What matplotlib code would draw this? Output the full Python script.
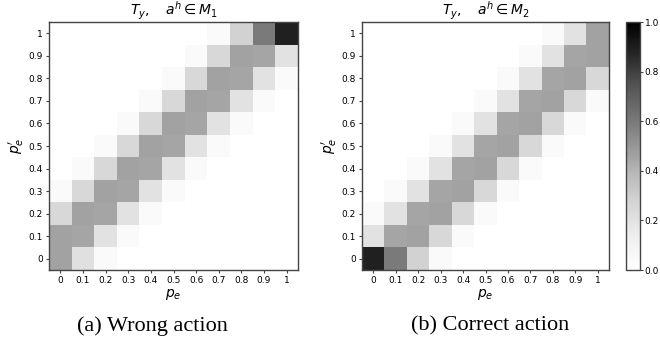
import matplotlib
matplotlib.use("Agg")
import matplotlib.pyplot as plt
import numpy as np

tick_labels = ["0", "0.1", "0.2", "0.3", "0.4", "0.5", "0.6", "0.7", "0.8", "0.9", "1"]

# rows: p'_e from 0 (bottom) to 1 (top); columns: p_e from 0 to 1
T_wrong = [
    [0.46, 0.21, 0.04, 0, 0, 0, 0, 0, 0, 0, 0],
    [0.46, 0.45, 0.20, 0.04, 0, 0, 0, 0, 0, 0, 0],
    [0.25, 0.46, 0.45, 0.20, 0.04, 0, 0, 0, 0, 0, 0],
    [0.04, 0.25, 0.46, 0.45, 0.20, 0.04, 0, 0, 0, 0, 0],
    [0, 0.04, 0.25, 0.46, 0.45, 0.20, 0.04, 0, 0, 0, 0],
    [0, 0, 0.04, 0.25, 0.46, 0.45, 0.20, 0.04, 0, 0, 0],
    [0, 0, 0, 0.04, 0.25, 0.46, 0.45, 0.20, 0.04, 0, 0],
    [0, 0, 0, 0, 0.04, 0.25, 0.46, 0.45, 0.20, 0.04, 0],
    [0, 0, 0, 0, 0, 0.04, 0.25, 0.46, 0.45, 0.20, 0.04],
    [0, 0, 0, 0, 0, 0, 0.04, 0.25, 0.46, 0.45, 0.20],
    [0, 0, 0, 0, 0, 0, 0, 0.04, 0.28, 0.60, 0.89],
]

T_correct = [
    [0.89, 0.60, 0.28, 0.04, 0, 0, 0, 0, 0, 0, 0],
    [0.20, 0.45, 0.46, 0.25, 0.04, 0, 0, 0, 0, 0, 0],
    [0.04, 0.20, 0.45, 0.46, 0.25, 0.04, 0, 0, 0, 0, 0],
    [0, 0.04, 0.20, 0.45, 0.46, 0.25, 0.04, 0, 0, 0, 0],
    [0, 0, 0.04, 0.20, 0.45, 0.46, 0.25, 0.04, 0, 0, 0],
    [0, 0, 0, 0.04, 0.20, 0.45, 0.46, 0.25, 0.04, 0, 0],
    [0, 0, 0, 0, 0.04, 0.20, 0.45, 0.46, 0.25, 0.04, 0],
    [0, 0, 0, 0, 0, 0.04, 0.20, 0.45, 0.46, 0.25, 0.04],
    [0, 0, 0, 0, 0, 0, 0.04, 0.20, 0.45, 0.46, 0.25],
    [0, 0, 0, 0, 0, 0, 0, 0.04, 0.20, 0.45, 0.46],
    [0, 0, 0, 0, 0, 0, 0, 0, 0.04, 0.20, 0.46],
]

titles = [r"$T_y,\quad a^h \in M_1$", r"$T_y,\quad a^h \in M_2$"]
captions = ["(a) Wrong action", "(b) Correct action"]

W, H = 660, 341
fig = plt.figure(figsize=(W / 100, H / 100), dpi=100)

def fx(px):
    return px / W

def fy(py):
    return 1 - py / H

ax_boxes = [(49, 22, 298, 270), (362, 22, 609, 270)]
caption_x = [152, 490]
edge = "#444444"
im = None
for k, data in enumerate([T_wrong, T_correct]):
    x0, y0, x1, y1 = ax_boxes[k]
    ax = fig.add_axes([fx(x0), fy(y1), fx(x1 - x0), (y1 - y0) / H])
    arr = np.array(data)
    im = ax.imshow(arr, cmap="Greys", vmin=0, vmax=1, origin="lower",
                   aspect="auto", interpolation="nearest")
    ax.set_xticks(range(len(tick_labels)))
    ax.set_xticklabels(tick_labels)
    ax.set_yticks(range(len(tick_labels)))
    ax.set_yticklabels(tick_labels)
    ax.tick_params(labelsize=6.5, length=2.5, width=0.8, color=edge, pad=2)
    for s in ax.spines.values():
        s.set_color(edge)
        s.set_linewidth(1.0)
    ax.set_xlabel(r"$p_e$", fontsize=10, labelpad=1)
    ax.set_ylabel(r"$p_e'$", fontsize=10, labelpad=2)
    ax.set_title(titles[k], fontsize=10, pad=3)
    fig.text(fx(caption_x[k]), fy(326), captions[k], ha="center", va="center",
             fontsize=16, family="Liberation Serif")

cax = fig.add_axes([fx(626), fy(270), fx(14), 248 / H])
cb = fig.colorbar(im, cax=cax)
cb.set_ticks([0, 0.2, 0.4, 0.6, 0.8, 1.0])
cb.ax.tick_params(labelsize=6.5, length=2.5, width=0.8, color=edge, pad=1)
cb.outline.set_edgecolor(edge)
cb.outline.set_linewidth(1.0)

fig.savefig("out.png", dpi=100)
